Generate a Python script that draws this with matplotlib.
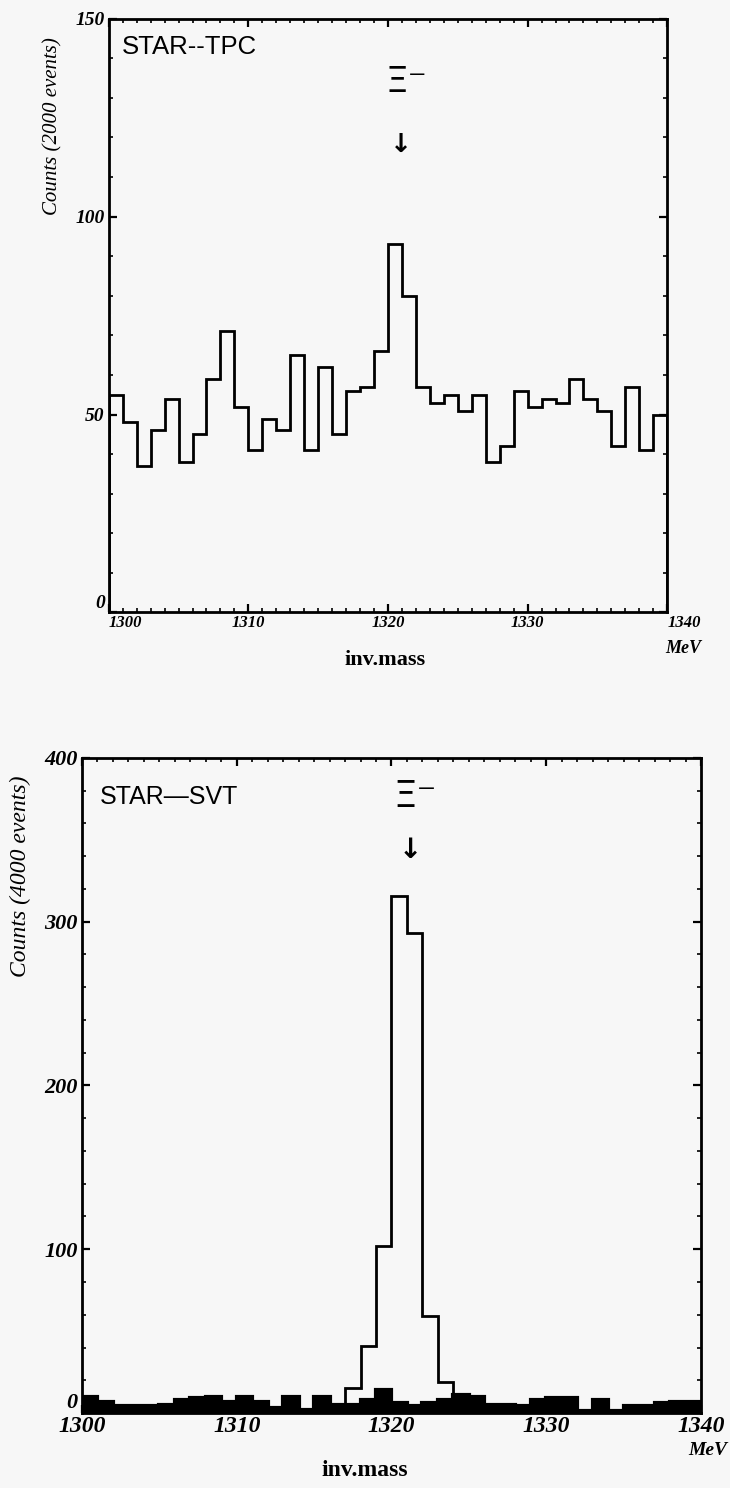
import numpy as np
import matplotlib
matplotlib.use("Agg")
import matplotlib.pyplot as plt
from matplotlib.ticker import MultipleLocator, FixedLocator

# ---------------- data ----------------
edges = list(range(1300, 1341))  # 1 MeV bins, 1300..1340

tpc_counts = [55, 48, 37, 46, 54, 38, 45, 59, 71, 52,
              41, 49, 46, 65, 41, 62, 45, 56, 57, 66,
              93, 80, 57, 53, 55, 51, 55, 38, 42, 56,
              52, 54, 53, 59, 54, 51, 42, 57, 41, 50]

svt_background = [10, 7, 4, 4, 4, 5, 8, 9, 10, 7,
                  10, 7, 3, 10, 2, 10, 5, 5, 8, 14,
                  6, 4, 6, 8, 11, 10, 5, 5, 4, 8,
                  9, 9, 1, 8, 1, 4, 4, 6, 7, 7]

svt_counts = [10, 7, 4, 4, 4, 5, 8, 9, 10, 7,
              10, 7, 3, 10, 2, 10, 5, 15, 41, 102,
              316, 293, 59, 19, 11, 10, 5, 5, 4, 8,
              9, 9, 1, 8, 1, 4, 4, 6, 7, 7]

x_ticks = [1300, 1310, 1320, 1330, 1340]
tpc_yticks = [0, 50, 100, 150]
svt_yticks = [0, 100, 200, 300, 400]

BG = "#f7f7f7"
SERIF = "Liberation Serif"
SANS = "Liberation Sans"

fig = plt.figure(figsize=(7.30, 14.88), dpi=100, facecolor=BG)

def style_axes(ax, ymax, yticks, yminor, xfs, yfs):
    ax.set_facecolor(BG)
    ax.set_xlim(1300, 1340)
    ax.set_ylim(0, ymax)
    for s in ax.spines.values():
        s.set_linewidth(2.0)
        s.set_color("black")
    ax.xaxis.set_major_locator(FixedLocator(x_ticks))
    ax.xaxis.set_minor_locator(MultipleLocator(1))
    ax.yaxis.set_major_locator(FixedLocator(yticks))
    ax.yaxis.set_minor_locator(MultipleLocator(yminor))
    ax.tick_params(which="both", direction="in", top=True, right=True, color="black")
    ax.tick_params(which="major", length=6, width=1.6, pad=3)
    ax.tick_params(which="minor", length=3, width=1.2)
    ax.tick_params(axis="x", which="major", pad=2)
    ax.set_xticklabels([str(t) for t in x_ticks], family=SERIF, style="italic",
                       weight="bold", fontsize=xfs)
    ax.set_yticklabels([str(t) for t in yticks], family=SERIF, style="italic",
                       weight="bold", fontsize=yfs)

# ---------------- top panel: STAR-TPC ----------------
ax1 = fig.add_axes([0.149, 0.5884, 0.765, 0.3990])
ax1.stairs(tpc_counts, edges, color="black", linewidth=2.0)
style_axes(ax1, 150, tpc_yticks, 10, 12, 14)

ax1.text(0.023, 0.953, "STAR--TPC", transform=ax1.transAxes, family=SANS,
         fontsize=18.5, ha="left", va="center")
ax1.text(1319.8, 134, "Ξ⁻", family="DejaVu Sans", fontsize=26,
         ha="left", va="center")
ax1.text(1320.9, 118, "↓", family="DejaVu Sans", fontsize=19, weight="bold",
         ha="center", va="center")
ax1.text(-0.10, 0.82, "Counts (2000 events)", transform=ax1.transAxes,
         rotation=90, family=SERIF, style="italic", fontsize=15,
         ha="center", va="center")

fig.text(0.527, 0.5565, "inv.mass", family=SERIF, weight="bold",
         fontsize=16, ha="center", va="center")
fig.text(0.936, 0.5645, "MeV", family=SERIF, weight="bold", style="italic",
         fontsize=13, ha="center", va="center")

# ---------------- bottom panel: STAR-SVT ----------------
ax2 = fig.add_axes([0.1123, 0.0504, 0.848, 0.4402])
ax2.stairs(svt_background, edges, fill=True, color="black")
ax2.stairs(svt_background, edges, color="black", linewidth=3.0)
ax2.stairs(svt_counts, edges, color="black", linewidth=2.0)
style_axes(ax2, 400, svt_yticks, 20, 17, 16)

ax2.text(0.029, 0.94, "STAR—SVT", transform=ax2.transAxes, family=SANS,
         fontsize=18, ha="left", va="center")
ax2.text(1320.1, 376, "Ξ⁻", family="DejaVu Sans", fontsize=27,
         ha="left", va="center")
ax2.text(1321.2, 344, "↓", family="DejaVu Sans", fontsize=20, weight="bold",
         ha="center", va="center")
ax2.text(-0.10, 0.82, "Counts (4000 events)", transform=ax2.transAxes,
         rotation=90, family=SERIF, style="italic", fontsize=17,
         ha="center", va="center")

fig.text(0.50, 0.012, "inv.mass", family=SERIF, weight="bold",
         fontsize=17, ha="center", va="center")
fig.text(0.970, 0.0255, "MeV", family=SERIF, weight="bold", style="italic",
         fontsize=14, ha="center", va="center")

# adjust corner labels after a first draw so the tick objects exist
fig.canvas.draw()
xl = ax1.get_xticklabels()
xl[0].set_horizontalalignment("left")
xl[-1].set_horizontalalignment("left")
ax1.get_yticklabels()[0].set_verticalalignment("bottom")
ax2.get_yticklabels()[0].set_verticalalignment("bottom")

fig.savefig("out.png", dpi=100, facecolor=BG)
